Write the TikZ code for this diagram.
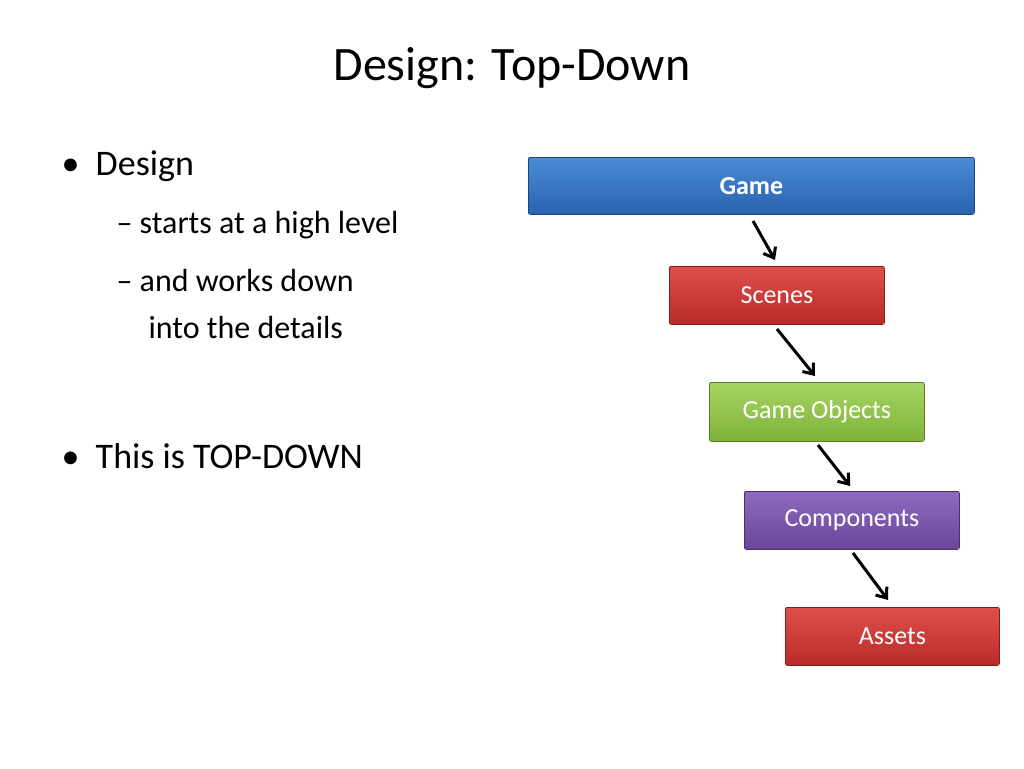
\documentclass[tikz,border=0pt]{standalone}
\usepackage{fontspec}
\setmainfont{Carlito}
\usetikzlibrary{arrows.meta}
\definecolor{bA}{HTML}{4A8BD6}\definecolor{bB}{HTML}{2A62B0}
\definecolor{rA}{HTML}{E0504D}\definecolor{rB}{HTML}{B82A28}
\definecolor{gA}{HTML}{A6D563}\definecolor{gB}{HTML}{7FB33A}
\definecolor{pA}{HTML}{8E6BBF}\definecolor{pB}{HTML}{6A469B}
\tikzset{
 blk/.style={draw=#1!70!black, rounded corners=2pt, line width=0.8pt, anchor=north west,
   text=white, font=\fontsize{26}{30}\selectfont, inner sep=0pt},
 arr/.style={-{Straight Barb[length=9pt,width=14pt]}, line width=3pt, black},
 bt/.style={anchor=base west, font=\fontsize{36}{40}\selectfont},
 st/.style={anchor=base west, font=\fontsize{32}{36}\selectfont}
}
\begin{document}
\begin{tikzpicture}[x=1pt,y=-1pt]
\useasboundingbox (0,0) rectangle (1024,768);
\fill[white] (0,0) rectangle (1024,768);
\node[font=\fontsize{48}{52}\selectfont] (title) at (512,68) {Design: Top-Down};
\node[bt] (b1) at (58,175) {\textbullet\ \ Design};
\node[st] (s1) at (113,233) {– starts at a high level};
\node[st] (s2) at (113,291) {– and works down};
\node[st] (s3) at (145,338) {into the details};
\node[bt] (b2) at (58,468) {\textbullet\ \ This is TOP-DOWN};
\newcommand\mkbox[8]{%
 \shade[top color=#6,bottom color=#7,rounded corners=2pt] (#2,#3) rectangle (#4,#5);
 \node[blk=#7, minimum width=#4pt-#2pt, minimum height=#5pt-#3pt] (#1) at (#2,#3) {#8};}
\mkbox{game}{528}{157}{974}{214}{bA}{bB}{\textbf{Game}}
\mkbox{scenes}{669}{266}{884}{324}{rA}{rB}{Scenes}
\mkbox{obj}{709}{382}{924}{441}{gA}{gB}{Game Objects}
\mkbox{comp}{744}{491}{959}{549}{pA}{pB}{Components}
\mkbox{assets}{785}{607}{999}{665}{rA}{rB}{Assets}
\coordinate (a1) at (753,221); \coordinate (a2) at (777,329);
\coordinate (a3) at (818,445); \coordinate (a4) at (853,553);
\draw[arr] (a1) -- (775,260);
\draw[arr] (a2) -- (815,376);
\draw[arr] (a3) -- (850,486);
\draw[arr] (a4) -- (888,600);
\end{tikzpicture}
\end{document}
